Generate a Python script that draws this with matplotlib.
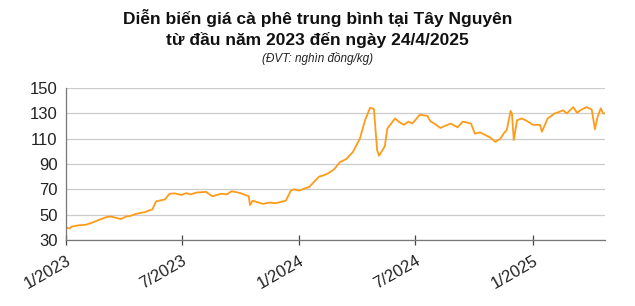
import matplotlib
matplotlib.use('Agg')
import matplotlib.pyplot as plt
import pandas as pd

# ── data (nghìn đồng/kg) ──
dates = [
    "2023-01-01", "2023-01-06", "2023-01-10", "2023-01-20", "2023-02-01", "2023-02-10",
    "2023-02-15", "2023-02-25", "2023-03-05", "2023-03-12", "2023-03-20", "2023-03-28",
    "2023-04-05", "2023-04-12", "2023-04-20", "2023-05-05", "2023-05-12", "2023-05-16",
    "2023-05-22", "2023-06-05", "2023-06-12", "2023-06-20", "2023-07-01", "2023-07-08",
    "2023-07-15", "2023-07-25", "2023-08-08", "2023-08-18", "2023-09-01", "2023-09-10",
    "2023-09-17", "2023-10-01", "2023-10-14", "2023-10-16", "2023-10-20", "2023-11-05",
    "2023-11-15", "2023-11-25", "2023-12-11", "2023-12-19", "2023-12-24", "2024-01-01",
    "2024-01-17", "2024-02-01", "2024-02-08", "2024-02-15", "2024-02-25", "2024-03-05",
    "2024-03-15", "2024-03-25", "2024-04-05", "2024-04-13", "2024-04-21", "2024-04-27",
    "2024-05-02", "2024-05-05", "2024-05-14", "2024-05-18", "2024-05-24", "2024-05-30",
    "2024-06-06", "2024-06-13", "2024-06-20", "2024-06-26", "2024-07-08", "2024-07-20",
    "2024-07-24", "2024-08-01", "2024-08-09", "2024-08-25", "2024-09-05", "2024-09-13",
    "2024-09-26", "2024-10-02", "2024-10-10", "2024-10-18", "2024-10-26", "2024-11-03",
    "2024-11-11", "2024-11-16", "2024-11-21", "2024-11-27", "2024-11-29", "2024-12-02",
    "2024-12-07", "2024-12-14", "2024-12-21", "2025-01-01", "2025-01-12", "2025-01-15",
    "2025-01-24", "2025-02-04", "2025-02-10", "2025-02-17", "2025-02-23", "2025-03-05",
    "2025-03-11", "2025-03-18", "2025-03-26", "2025-04-03", "2025-04-08", "2025-04-12",
    "2025-04-17", "2025-04-21", "2025-04-24",
]
prices = [
    40.0, 39.0, 40.5, 41.5, 42.0, 43.5,
    44.5, 46.5, 48.0, 48.5, 47.5, 46.5,
    48.5, 49.0, 50.5, 52.0, 53.5, 54.0,
    60.5, 62.0, 66.5, 66.8, 65.5, 67.0,
    66.0, 67.5, 68.0, 64.5, 66.5, 66.0,
    68.5, 67.0, 64.5, 57.5, 61.0, 58.5,
    59.5, 59.0, 61.0, 69.0, 70.0, 69.0,
    72.0, 80.0, 81.0, 82.5, 86.0, 91.5,
    94.0, 99.5, 110.0, 124.5, 134.5, 133.5,
    101.0, 96.5, 104.0, 118.0, 122.0, 126.0,
    123.0, 121.0, 123.5, 122.0, 129.0, 128.0,
    124.0, 121.5, 118.5, 122.0, 119.0, 123.5,
    122.0, 114.0, 115.0, 113.0, 111.0, 107.5,
    110.0, 114.0, 117.0, 132.0, 130.0, 109.0,
    124.5, 126.0, 124.5, 121.0, 121.0, 115.5,
    126.0, 130.0, 131.0, 132.5, 130.0, 135.0,
    130.5, 133.0, 135.0, 133.0, 117.5, 127.0,
    134.0, 130.0, 130.0,
]
tick_dates = ["2023-01-01", "2023-07-01", "2024-01-01", "2024-07-01", "2025-01-01"]
tick_labels = ["1/2023", "7/2023", "1/2024", "7/2024", "1/2025"]
y_ticks = [30, 50, 70, 90, 110, 130, 150]

plt.rcParams['font.family'] = ['Liberation Sans', 'DejaVu Sans']

x = pd.to_datetime(dates)
fig = plt.figure(figsize=(6.35, 3.06), dpi=100)
ax = fig.add_axes([0.104, 0.216, 0.849, 0.496])

ax.plot(x, prices, color='#FF9B1A', lw=1.3, solid_joinstyle='round')

ax.set_xlim(pd.Timestamp("2023-01-01"), pd.Timestamp("2025-04-24"))
ax.set_ylim(30, 150)
ax.set_yticks(y_ticks)
ax.set_xticks(pd.to_datetime(tick_dates))
ax.set_xticklabels(tick_labels, rotation=30, ha='right', rotation_mode='anchor')

ax.grid(axis='y', color='#cccccc', lw=0.9)
ax.set_axisbelow(True)
for s in ['top', 'right']:
    ax.spines[s].set_visible(False)
for s in ['left', 'bottom']:
    ax.spines[s].set_color('#777777')
    ax.spines[s].set_linewidth(0.9)
ax.tick_params(axis='y', length=0, labelsize=12, pad=6, colors='#222222')
ax.tick_params(axis='x', direction='inout', length=7, width=0.9, color='#444444',
               labelsize=12, pad=6, labelcolor='#222222')

fig.text(0.5, 0.94, "Diễn biến giá cà phê trung bình tại Tây Nguyên",
         ha='center', va='center', fontsize=12.5, fontweight='bold', color='#111111')
fig.text(0.5, 0.868, "từ đầu năm 2023 đến ngày 24/4/2025",
         ha='center', va='center', fontsize=12.5, fontweight='bold', color='#111111')
fig.text(0.5, 0.81, "(ĐVT: nghìn đồng/kg)", ha='center', va='center',
         fontsize=8.5, style='italic', color='#222222')

fig.savefig("out.png", dpi=100)
